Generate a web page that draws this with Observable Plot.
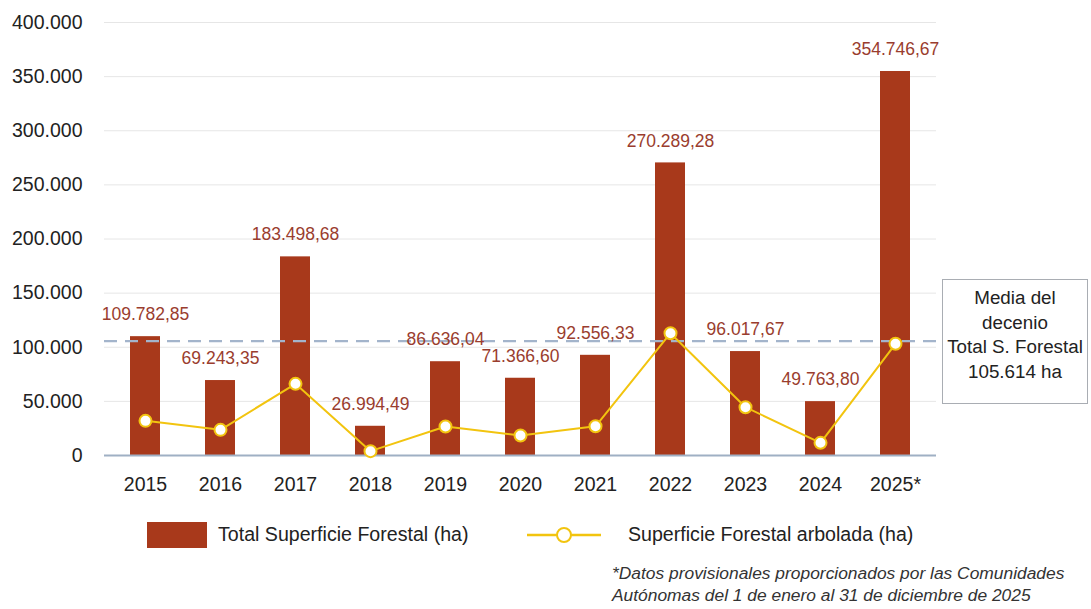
<!DOCTYPE html>
<html><head><meta charset="utf-8">
<script src="https://cdn.jsdelivr.net/npm/d3@7"></script>
<script src="https://cdn.jsdelivr.net/npm/@observablehq/plot@0.6"></script>
<style>
body{margin:0;background:#fff;font-family:"Liberation Sans",Arial,sans-serif;}
#wrap{position:relative;width:1091px;height:609px;overflow:hidden;}
#chart{position:absolute;left:0;top:0;}
#meanbox{position:absolute;left:942px;top:279px;width:144px;height:117px;border:1.5px solid #a9adb3;
  text-align:center;font-size:18.8px;line-height:24.7px;color:#222;padding-top:6px;box-sizing:content-box;}
.leg{position:absolute;font-size:19.6px;color:#222;white-space:nowrap;}
#sw{position:absolute;left:147px;top:522px;width:60px;height:26px;background:#a8391b;}
#note{position:absolute;left:612px;top:562px;font-size:17.4px;font-style:italic;color:#333;line-height:22px;white-space:nowrap;}
</style></head><body>
<div id="wrap">
  <div id="chart"></div>
  <div id="meanbox"></div>
  <div id="sw"></div>
  <div class="leg" style="left:218px;top:523px;">Total Superficie Forestal (ha)</div>
  <svg style="position:absolute;left:525px;top:522px" width="80" height="26">
    <line x1="2" y1="13" x2="76" y2="13" stroke="#f2c40f" stroke-width="2.5"/>
    <circle cx="39" cy="13" r="7" fill="#fff" stroke="#f2c40f" stroke-width="2"/>
  </svg>
  <div class="leg" style="left:628px;top:523px;">Superficie Forestal arbolada (ha)</div>
  <div id="note">*Datos provisionales proporcionados por las Comunidades<br>Autónomas del 1 de enero al 31 de diciembre de 2025</div>
</div>
<script>
const years = ["2015","2016","2017","2018","2019","2020","2021","2022","2023","2024","2025*"];
const totalForestal = [109782.85, 69243.35, 183498.68, 26994.49, 86636.04, 71366.60, 92556.33, 270289.28, 96017.67, 49763.80, 354746.67];
const arbolada = [32000, 23700, 66200, 4000, 26800, 18500, 27000, 113000, 44600, 11700, 103200];
const yTicks = [0, 50000, 100000, 150000, 200000, 250000, 300000, 350000, 400000];
const mediaDecenio = 105614;

const es = d3.formatLocale({decimal: ",", thousands: ".", grouping: [3], currency: ["", " €"]});
const fmt2 = es.format(",.2f");
const fmt0 = es.format(",.0f");

const data = years.map((y, i) => ({year: y, total: totalForestal[i], arb: arbolada[i]}));

document.getElementById("meanbox").innerHTML =
  "Media del<br>decenio<br>Total S. Forestal<br>" + fmt0(mediaDecenio) + " ha";

const barColor = "#a8391b";
const yellow = "#f2c40f";

const chart = Plot.plot({
  width: 1091,
  height: 500,
  marginLeft: 104,
  marginRight: 155,
  marginTop: 22,
  marginBottom: 45,
  style: {fontFamily: "'Liberation Sans', Arial, sans-serif", fontSize: "19.5px", color: "#222", background: "transparent"},
  x: {domain: years, paddingInner: 0.6, paddingOuter: 0.3, label: null, tickSize: 0, tickPadding: 22},
  y: {domain: [0, 400000], ticks: yTicks, tickFormat: fmt0, label: null, tickSize: 0, tickPadding: 22},
  marks: [
    Plot.gridY(yTicks, {stroke: "#e6e6e6", strokeOpacity: 1}),
    Plot.barY(data, {x: "year", y: "total", fill: barColor}),
    Plot.ruleY([0], {stroke: "#9fb0c4", strokeWidth: 2}),
    Plot.ruleY([mediaDecenio], {stroke: "#a3b4cb", strokeWidth: 2.2, strokeDasharray: "13,8", insetRight: -6, clip: false}),
    Plot.line(data, {x: "year", y: "arb", stroke: yellow, strokeWidth: 2}),
    Plot.dot(data, {x: "year", y: "arb", r: 6, fill: "#fff", stroke: yellow, strokeWidth: 2}),
    Plot.text(data, {x: "year", y: "total", text: d => fmt2(d.total), dy: -22, fill: "#9a3d2e", fontSize: 17.5})
  ]
});
document.getElementById("chart").appendChild(chart);
</script>
</body></html>
